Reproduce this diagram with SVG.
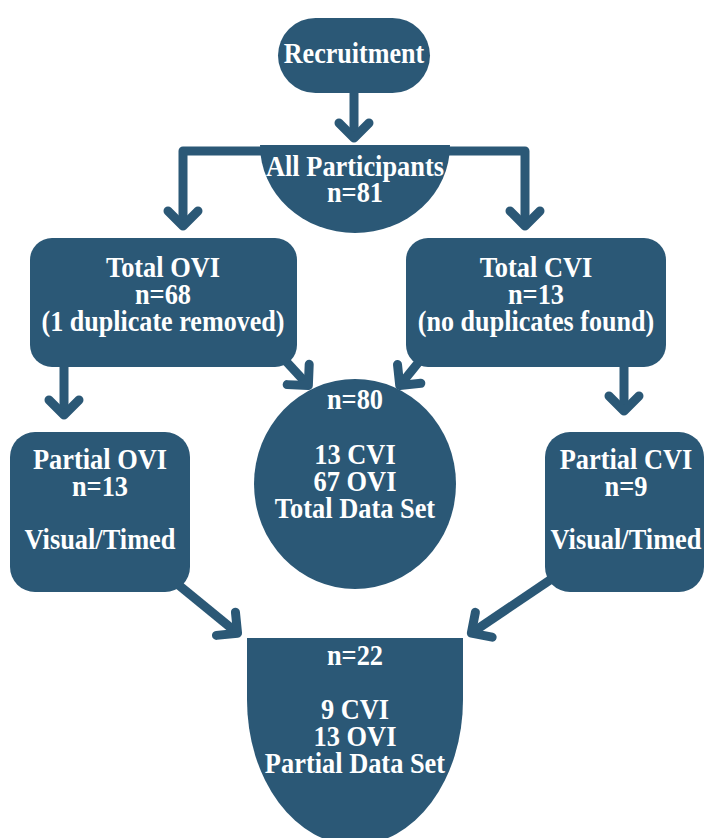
<svg xmlns="http://www.w3.org/2000/svg" width="706" height="838" viewBox="0 0 706 838">
<defs>
<style>
.n{fill:#2b5876}
.t{fill:#fff;font-family:"Liberation Serif","Times New Roman",serif;font-weight:bold;font-size:29px;text-anchor:middle}
.c{fill:none;stroke:#2b5876;stroke-width:9;stroke-linejoin:round}
</style>
<marker id="ah" markerUnits="userSpaceOnUse" viewBox="-25 -25 50 50" markerWidth="50" markerHeight="50" refX="-2" refY="0" orient="auto" overflow="visible">
<path d="M-15,-15 L0,0 L-15,15" fill="none" stroke="#2b5876" stroke-width="9" stroke-linecap="round" stroke-linejoin="round"/>
</marker>
</defs>
<rect width="706" height="838" fill="#fff"/>
<g id="connectors">
<path class="c" d="M354,90 V136" marker-end="url(#ah)"/>
<path class="c" d="M262,151 H183 V224" marker-end="url(#ah)"/>
<path class="c" d="M448,151 H525 V224" marker-end="url(#ah)"/>
<path class="c" d="M64,365 V413" marker-end="url(#ah)"/>
<path class="c" d="M624,365 V409" marker-end="url(#ah)"/>
<path class="c" d="M283,358 L307,384" marker-end="url(#ah)"/>
<path class="c" d="M422,358 L401,384" marker-end="url(#ah)"/>
<path class="c" d="M170,578 L236,632" marker-end="url(#ah)"/>
<path class="c" d="M553,578 L473,632" marker-end="url(#ah)"/>
</g>
<g id="recruitment">
<rect class="n" x="278" y="18" width="152" height="75" rx="37.5"/>
<text class="t" transform="translate(354,63) scale(0.9,1)">Recruitment</text>
</g>
<g id="all-participants">
<path class="n" d="M260,145 H450 A95,88 0 0 1 260,145 Z"/>
<text class="t" transform="translate(355,176) scale(0.91,1)">All Participants</text>
<text class="t" transform="translate(355,202) scale(0.91,1)">n=81</text>
</g>
<g id="total-ovi">
<rect class="n" x="30" y="238" width="267" height="129" rx="22"/>
<text class="t" transform="translate(163,277) scale(0.91,1)">Total OVI</text>
<text class="t" transform="translate(163,304) scale(0.91,1)">n=68</text>
<text class="t" transform="translate(163,331) scale(0.9,1)">(1 duplicate removed)</text>
</g>
<g id="total-cvi">
<rect class="n" x="406" y="238" width="260" height="129" rx="22"/>
<text class="t" transform="translate(536,277) scale(0.91,1)">Total CVI</text>
<text class="t" transform="translate(536,304) scale(0.91,1)">n=13</text>
<text class="t" transform="translate(536,331) scale(0.9,1)">(no duplicates found)</text>
</g>
<g id="total-data-set">
<ellipse class="n" cx="355" cy="484" rx="101" ry="105"/>
<text class="t" transform="translate(355,409) scale(0.91,1)">n=80</text>
<text class="t" transform="translate(355,464) scale(0.91,1)">13 CVI</text>
<text class="t" transform="translate(355,491) scale(0.91,1)">67 OVI</text>
<text class="t" transform="translate(355,518) scale(0.91,1)">Total Data Set</text>
</g>
<g id="partial-ovi">
<rect class="n" x="10" y="432" width="180" height="160" rx="25"/>
<text class="t" transform="translate(100,469) scale(0.91,1)">Partial OVI</text>
<text class="t" transform="translate(100,496) scale(0.91,1)">n=13</text>
<text class="t" transform="translate(100,549) scale(0.91,1)">Visual/Timed</text>
</g>
<g id="partial-cvi">
<rect class="n" x="545" y="432" width="159" height="160" rx="25"/>
<text class="t" transform="translate(626,469) scale(0.91,1)">Partial CVI</text>
<text class="t" transform="translate(626,496) scale(0.91,1)">n=9</text>
<text class="t" transform="translate(626,549) scale(0.91,1)">Visual/Timed</text>
</g>
<g id="partial-data-set">
<path class="n" d="M247,638 H463 V700 A108,145 0 0 1 247,700 Z"/>
<text class="t" transform="translate(355,665) scale(0.91,1)">n=22</text>
<text class="t" transform="translate(355,719) scale(0.91,1)">9 CVI</text>
<text class="t" transform="translate(355,746) scale(0.91,1)">13 OVI</text>
<text class="t" transform="translate(355,773) scale(0.91,1)">Partial Data Set</text>
</g>
</svg>
